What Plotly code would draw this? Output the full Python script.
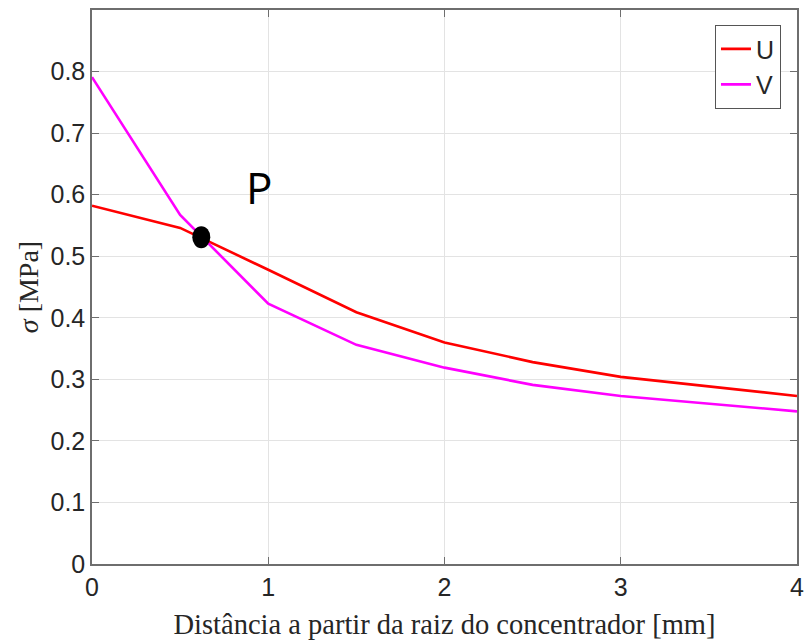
import plotly.graph_objects as go

# Stress along the distance from the notch root
distance_mm = [0, 0.5, 1, 1.5, 2, 2.5, 3, 3.5, 4]
sigma_u = [0.582, 0.546, 0.478, 0.409, 0.360, 0.328, 0.304, 0.288, 0.273]
sigma_v = [0.791, 0.567, 0.423, 0.356, 0.319, 0.291, 0.273, 0.260, 0.248]

# Intersection point P
p_x = 0.62
p_y = 0.531
p_label = "P"
p_label_x = 0.95
p_label_y = 0.612

x_ticks = [0, 1, 2, 3, 4]
y_ticks = [0, 0.1, 0.2, 0.3, 0.4, 0.5, 0.6, 0.7, 0.8]

axis_color = "#6e6e6e"
grid_color = "#e3e3e3"

fig = go.Figure()
fig.add_trace(go.Scatter(x=distance_mm, y=sigma_u, mode="lines", name="U",
                         line=dict(color="#ff0000", width=2.6)))
fig.add_trace(go.Scatter(x=distance_mm, y=sigma_v, mode="lines", name="V",
                         line=dict(color="#ff00ff", width=2.6)))

# Black elliptical dot marking P
fig.add_shape(type="circle", xref="x", yref="y",
              xsizemode="pixel", ysizemode="pixel",
              xanchor=p_x, yanchor=p_y,
              x0=-9, x1=9, y0=-11, y1=11,
              fillcolor="black", line=dict(color="black", width=0))

fig.add_annotation(x=p_label_x, y=p_label_y, text=p_label, showarrow=False,
                   font=dict(family="Open Sans", size=44, color="black"))

fig.update_xaxes(range=[0, 4], tickvals=x_ticks, ticktext=[str(v) for v in x_ticks],
                 showgrid=True, gridcolor=grid_color, gridwidth=1,
                 showline=True, linecolor=axis_color, linewidth=1.5, mirror="ticks",
                 ticks="inside", ticklen=7, tickcolor=axis_color, zeroline=False,
                 automargin=False, ticklabeloverflow="allow",
                 tickfont=dict(family="Liberation Sans", size=25, color="#262626"),
                 title=dict(text="Distância a partir da raiz do concentrador [mm]",
                            font=dict(family="Liberation Serif", size=28.5, color="#262626"),
                            standoff=14))
fig.update_yaxes(range=[0, 0.9], tickvals=y_ticks, ticktext=[f"{v:g}" for v in y_ticks],
                 showgrid=True, gridcolor=grid_color, gridwidth=1,
                 showline=True, linecolor=axis_color, linewidth=1.5, mirror="ticks",
                 ticks="inside", ticklen=7, tickcolor=axis_color, zeroline=False,
                 automargin=False, ticklabeloverflow="allow",
                 tickfont=dict(family="Liberation Sans", size=25, color="#262626"),
                 title=dict(text="<i>σ</i> [MPa]",
                            font=dict(family="Liberation Serif", size=28, color="#262626"),
                            standoff=4))

fig.update_layout(
    width=804, height=644,
    margin=dict(l=92, r=7, t=10, b=80),
    paper_bgcolor="white", plot_bgcolor="white",
    showlegend=True,
    legend=dict(x=0.977, y=0.973, xanchor="right", yanchor="top",
                bgcolor="white", bordercolor="#555555", borderwidth=1.2,
                font=dict(family="Liberation Sans", size=25, color="#262626"),
                tracegroupgap=0, itemwidth=30),
)

fig.write_html("out.html")
